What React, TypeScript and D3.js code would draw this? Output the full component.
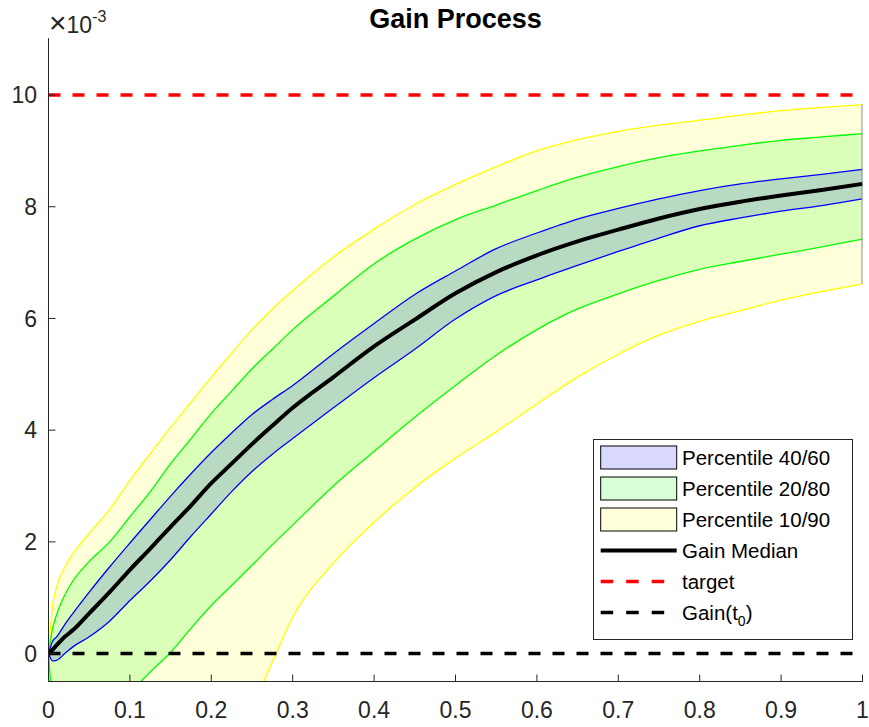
import React from "react";
import * as d3 from "d3";

// time grid (fraction of horizon)
const xs = [0, 0.005, 0.01, 0.02, 0.03, 0.05, 0.075, 0.1, 0.125, 0.15, 0.175, 0.2, 0.225, 0.25, 0.275, 0.3, 0.35, 0.4, 0.45, 0.5, 0.55, 0.6, 0.65, 0.7, 0.75, 0.8, 0.85, 0.9, 0.95, 1];

// gain values, x 1e-3
const median = [0, 0.07, 0.15, 0.3, 0.42, 0.72, 1.1, 1.5, 1.88, 2.27, 2.65, 3.05, 3.4, 3.75, 4.08, 4.4, 4.95, 5.5, 5.98, 6.45, 6.83, 7.13, 7.38, 7.59, 7.79, 7.96, 8.09, 8.2, 8.3, 8.41];
const blueUpper = [0, 0.22, 0.3, 0.52, 0.72, 1.1, 1.55, 1.98, 2.4, 2.82, 3.22, 3.6, 3.95, 4.28, 4.55, 4.8, 5.37, 5.91, 6.43, 6.85, 7.25, 7.53, 7.78, 7.97, 8.14, 8.29, 8.41, 8.5, 8.58, 8.67];
const blueLower = [0, -0.13, -0.12, 0, 0.12, 0.3, 0.58, 0.95, 1.3, 1.68, 2.1, 2.5, 2.9, 3.26, 3.57, 3.85, 4.4, 4.94, 5.45, 5.99, 6.41, 6.69, 6.95, 7.2, 7.44, 7.66, 7.8, 7.92, 8.02, 8.14];
const greenUpper = [0, 0.45, 0.7, 1.05, 1.3, 1.65, 2.0, 2.45, 2.9, 3.4, 3.85, 4.3, 4.7, 5.1, 5.45, 5.8, 6.4, 6.98, 7.42, 7.77, 8.03, 8.29, 8.53, 8.72, 8.88, 9.0, 9.1, 9.19, 9.25, 9.31];
const greenLower = [0, -0.9, -1.2, -1.5, -1.65, -1.7, -1.05, -0.7, -0.33, 0.02, 0.45, 0.86, 1.22, 1.58, 1.95, 2.3, 3.0, 3.62, 4.23, 4.8, 5.34, 5.8, 6.17, 6.44, 6.68, 6.88, 7.02, 7.15, 7.28, 7.42];
const yellowUpper = [0, 0.85, 1.2, 1.55, 1.79, 2.15, 2.58, 3.1, 3.58, 4.05, 4.5, 4.95, 5.38, 5.8, 6.17, 6.5, 7.1, 7.6, 8.04, 8.4, 8.72, 9.0, 9.2, 9.35, 9.46, 9.55, 9.64, 9.72, 9.78, 9.83];
const yellowLower = [0, -1.5, -2.0, -2.5, -2.8, -3.2, -3.4, -3.4, -3.2, -2.9, -2.5, -2.05, -1.55, -0.95, -0.15, 0.65, 1.62, 2.35, 2.97, 3.5, 3.97, 4.47, 4.95, 5.36, 5.7, 5.95, 6.14, 6.33, 6.48, 6.62];

const target = 10;
const gain0 = 0;

const xTicks = [0, 0.1, 0.2, 0.3, 0.4, 0.5, 0.6, 0.7, 0.8, 0.9, 1];
const yTicks = [0, 2, 4, 6, 8, 10];

const legendItems = ["Percentile 40/60", "Percentile 20/80", "Percentile 10/90", "Gain Median", "target", "Gain(t0)"];

const W = 869;
const H = 727;
const font = "'Liberation Sans', Arial, Helvetica, sans-serif";
const axisColor = "#262626";

const bands = [
  { lower: yellowLower, upper: yellowUpper, color: "#ffff00" },
  { lower: greenLower, upper: greenUpper, color: "#00ff00" },
  { lower: blueLower, upper: blueUpper, color: "#0000ff" },
];

export default function App() {
  const x = d3.scaleLinear().domain([0, 1]).range([48.5, 862.5]);
  const y = d3.scaleLinear().domain([-0.5, 11]).range([681.5, 39.2]);

  const area = (lo: number[], hi: number[]) =>
    d3.area<number>()
      .curve(d3.curveMonotoneX)
      .x((d) => x(d))
      .y0((_, i) => y(lo[i]))
      .y1((_, i) => y(hi[i]))(xs);

  const line = (vals: number[]) =>
    d3.line<number>()
      .curve(d3.curveMonotoneX)
      .x((d) => x(d))
      .y((_, i) => y(vals[i]))(xs);

  const [x0, x1] = x.range();
  const [yb, yt] = y.range();
  const last = xs.length - 1;

  // legend geometry
  const lgX = 593.5, lgY = 439.5, lgW = 259, lgH = 200;
  const rowY = (i: number) => 457.5 + 31 * i;
  const sx0 = 600.7, sx1 = 676.7;

  return (
    <svg width={W} height={H} style={{ position: "absolute", left: 0, top: 0, background: "#fff" }} fontFamily={font}>
      <defs>
        <clipPath id="plot">
          <rect x={x0} y={yt} width={x1 - x0} height={yb - yt} />
        </clipPath>
      </defs>

      <g clipPath="url(#plot)">
        {bands.map((b, k) => (
          <g key={k}>
            <path d={area(b.lower, b.upper) || ""} fill={b.color} fillOpacity={0.15} stroke="none" />
            <path d={line(b.upper) || ""} fill="none" stroke={b.color} strokeWidth={1.3} />
            <path d={line(b.lower) || ""} fill="none" stroke={b.color} strokeWidth={1.3} />
          </g>
        ))}
        <line x1={x(1)} x2={x(1)} y1={y(yellowUpper[last])} y2={y(yellowLower[last])} stroke="#8c8c8c" strokeWidth={2} />
        <path d={line(median) || ""} fill="none" stroke="#000" strokeWidth={4} strokeLinejoin="round" />
        <line x1={x0} x2={x1} y1={y(target)} y2={y(target)} stroke="#ff0000" strokeWidth={3.5} strokeDasharray="12,12" />
        <line x1={x0} x2={x1} y1={y(gain0)} y2={y(gain0)} stroke="#000" strokeWidth={3.5} strokeDasharray="12,12" />
      </g>

      {/* axes */}
      <line x1={x0} x2={x0} y1={yt - 1} y2={yb} stroke={axisColor} strokeWidth={1} />
      <line x1={x0} x2={x1 + 0.5} y1={yb} y2={yb} stroke={axisColor} strokeWidth={1} />
      {xTicks.map((t) => (
        <g key={"x" + t}>
          <line x1={x(t)} x2={x(t)} y1={yb} y2={yb - 7} stroke={axisColor} strokeWidth={1} />
          <text x={x(t)} y={718} fontSize={23} fill={axisColor} textAnchor="middle">{String(t)}</text>
        </g>
      ))}
      {yTicks.map((t) => (
        <g key={"y" + t}>
          <line x1={x0} x2={x0 + 7} y1={y(t)} y2={y(t)} stroke={axisColor} strokeWidth={1} />
          <text x={37} y={y(t)} dy="0.36em" fontSize={23} fill={axisColor} textAnchor="end">{String(t)}</text>
        </g>
      ))}
      <text x={49} y={33} fontSize={23} fill={axisColor}>
        <tspan fontSize={30}>×</tspan>10<tspan fontSize={16} dy={-11}>-3</tspan>
      </text>

      <text x={(x0 + x1) / 2} y={28} fontSize={27} fontWeight="bold" fill="#000" textAnchor="middle">Gain Process</text>

      {/* legend */}
      <rect x={lgX} y={lgY} width={lgW} height={lgH} fill="#fff" stroke={axisColor} strokeWidth={1} />
      {bands.slice().reverse().map((b, i) => (
        <rect key={"p" + i} x={sx0} y={rowY(i) - 11.5} width={sx1 - sx0} height={23} fill={b.color} fillOpacity={0.15} stroke="#000" strokeWidth={1} />
      ))}
      <line x1={sx0} x2={sx1} y1={rowY(3)} y2={rowY(3)} stroke="#000" strokeWidth={4} />
      <line x1={sx0} x2={sx1} y1={rowY(4)} y2={rowY(4)} stroke="#ff0000" strokeWidth={3.5} strokeDasharray="12.5,13" />
      <line x1={sx0} x2={sx1} y1={rowY(5)} y2={rowY(5)} stroke="#000" strokeWidth={3.5} strokeDasharray="12.5,13" />
      {legendItems.map((name, i) => (
        <text key={name} x={682} y={rowY(i)} dy="0.36em" fontSize={20.5} fill="#000">
          {name === "Gain(t0)" ? (
            <>Gain(t<tspan fontSize={14} dy={6}>0</tspan><tspan dy={-6}>)</tspan></>
          ) : name}
        </text>
      ))}
    </svg>
  );
}
